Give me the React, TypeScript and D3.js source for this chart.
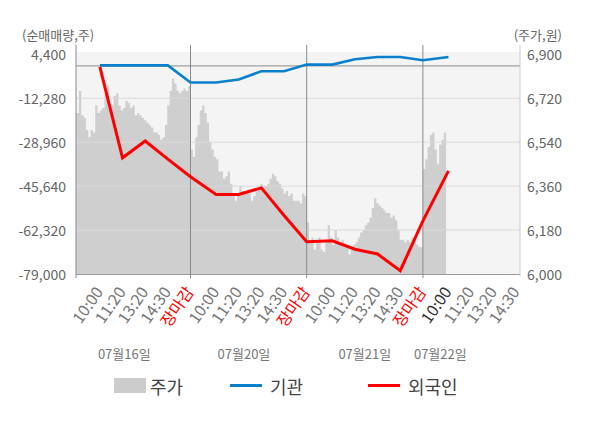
import React from 'react';
import * as d3 from 'd3';

// trading days shown on the x axis
const days = ['07월16일', '07월20일', '07월21일', '07월22일'];
const slotLabels = [
  ['10:00', '11:20', '13:20', '14:30', '장마감'],
  ['10:00', '11:20', '13:20', '14:30', '장마감'],
  ['10:00', '11:20', '13:20', '14:30', '장마감'],
  ['10:00', '11:20', '13:20', '14:30'],
];

// net buying (shares), one value per time slot
const foreignNet = [
  -400, -34900, -28500, -35400, -42100,
  -48800, -48800, -46300, -56800, -66750,
  -66400, -69600, -71400, -77750, -58800,
  -39840,
];
const institutionNet = [
  200, 200, 200, 200, -6330,
  -6330, -5190, -2045, -2045, 495,
  495, 2505, 3376, 3376, 2126,
  3376,
];

// intraday price (won), evenly sampled through each day
const price0716 = [
  6660, 6660, 6750, 6650, 6640, 6590, 6560, 6590, 6580, 6690,
  6660, 6670, 6680, 6740, 6770, 6700, 6690, 6730, 6740, 6690,
  6670, 6680, 6710, 6700, 6680, 6690, 6650, 6660, 6650, 6640,
  6630, 6620, 6610, 6600, 6580, 6580, 6570, 6550, 6560, 6610,
  6690, 6750, 6800, 6780, 6750, 6740, 6750, 6760, 6750, 6770,
];
const price0720 = [
  6510, 6480, 6560, 6610, 6670, 6690, 6660, 6620, 6540, 6510,
  6480, 6470, 6420, 6420, 6390, 6400, 6420, 6370, 6330, 6300,
  6320, 6360, 6340, 6340, 6340, 6330, 6300, 6320, 6340, 6360,
  6370, 6360, 6360, 6370, 6390, 6410, 6400, 6380, 6370, 6350,
  6330, 6340, 6320, 6330, 6300, 6300, 6300, 6290, 6330, 6320,
];
const price0721 = [
  6210, 6130, 6150, 6100, 6130, 6150, 6100, 6090, 6130, 6200,
  6150, 6120, 6180, 6150, 6130, 6140, 6110, 6120, 6080, 6100,
  6120, 6130, 6150, 6170, 6180, 6200, 6210, 6230, 6270, 6310,
  6290, 6280, 6270, 6260, 6250, 6250, 6230, 6240, 6220, 6180,
  6140, 6140, 6130, 6140, 6130, 6150, 6130, 6120, 6110, 6110,
];
const price0722 = [6430, 6470, 6520, 6570, 6580, 6510, 6450, 6530, 6550, 6580];
const dayPrices = [price0716, price0720, price0721, price0722];

const leftTicks = [4400, -12280, -28960, -45640, -62320, -79000];
const rightTicks = [6000, 6180, 6360, 6540, 6720, 6900];

const SAMPLES_PER_DAY = 50;
// where the time slots sit inside one day (fraction of the day width)
const slotFrac = [0.22, 0.415, 0.61, 0.805, 1.0];
const dateLabelAt = [0.43, 1.46, 2.5, 3.15];

const FONT = '"Noto Sans CJK KR", "Noto Sans", sans-serif';
const fmt = d3.formatLocale({ decimal: '.', thousands: ',', grouping: [3], currency: ['', ''], minus: '-' }).format(',');

export default function App() {
  const left = 76, right = 520, top = 54.3, bottom = 274;

  const x = d3.scaleLinear().domain([0, 4]).range([74.3, 74.3 + 4 * 116.2]);
  const yL = d3.scaleLinear().domain([-79000, 4400]).range([bottom, top]);
  const yR = d3.scaleLinear().domain([6000, 6900]).range([bottom, top]);

  const pricePts = dayPrices.flatMap((arr, d) => [
    ...arr.map((v, i) => ({ t: d + i / SAMPLES_PER_DAY, v })),
    { t: d + arr.length / SAMPLES_PER_DAY, v: arr[arr.length - 1] },
  ]);

  const area = d3.area<{ t: number; v: number }>()
    .x(d => x(d.t))
    .y0(yR(6000))
    .y1(d => yR(d.v))
    .curve(d3.curveStepAfter);

  const slots = slotLabels.flatMap((labels, d) =>
    labels.map((label, j) => ({ t: d + slotFrac[j], label, d, j }))
  );

  const line = d3.line<number>()
    .x((_, k) => x(slots[k].t))
    .y(v => yL(v));

  return (
    <svg width={600} height={428} style={{ position: 'absolute', left: 0, top: 0, background: '#fff' }}
      fontFamily={FONT}>
      <defs>
        <clipPath id="plot-clip">
          <rect x={left} y={52} width={right - left} height={bottom - 52} />
        </clipPath>
      </defs>

      {/* plot background */}
      <rect x={left} y={52} width={right - left} height={bottom - 52} fill="#f4f4f4" />

      {/* price area */}
      <path d={area(pricePts) || ''} fill="#cfcfcf" clipPath="url(#plot-clip)" />

      {/* grid lines */}
      {leftTicks.slice(1, -1).map(v => (
        <line key={v} x1={left} x2={right} y1={yL(v)} y2={yL(v)} stroke="#dadada" strokeWidth={1} />
      ))}
      <line x1={left} x2={right} y1={yL(0)} y2={yL(0)} stroke="#8a8a8a" strokeWidth={1} />

      {/* axes frame and day separators */}
      <line x1={left} x2={right} y1={bottom + 0.5} y2={bottom + 0.5} stroke="#999" />
      <line x1={right} x2={right} y1={45} y2={bottom + 2} stroke="#ccc" />
      <line x1={left} x2={left} y1={45} y2={bottom + 4} stroke="#8a8a8a" />
      {[1, 2, 3].map(d => (
        <line key={d} x1={x(d)} x2={x(d)} y1={45} y2={bottom + 4} stroke="#8a8a8a" />
      ))}

      {/* net buying lines */}
      <path d={line(institutionNet) || ''} fill="none" stroke="#0a80cc" strokeWidth={2.6} />
      <path d={line(foreignNet) || ''} fill="none" stroke="#ff0000" strokeWidth={3} />

      {/* left axis */}
      <text x={22} y={34} fontSize={13} fill="#666" dominantBaseline="central">(순매매량,주)</text>
      {leftTicks.map(v => (
        <text key={v} x={66} y={yL(v)} fontSize={14} fill="#666" textAnchor="end" dominantBaseline="central">
          {fmt(v)}
        </text>
      ))}

      {/* right axis */}
      <text x={562} y={34} fontSize={13} fill="#666" textAnchor="end" dominantBaseline="central">(주가,원)</text>
      {rightTicks.map(v => (
        <text key={v} x={527} y={yR(v)} fontSize={14} fill="#666" dominantBaseline="central">
          {fmt(v)}
        </text>
      ))}

      {/* time slot labels */}
      {slots.map(s => {
        const close = s.label === '장마감';
        const current = s.d === 3 && s.j === 0;
        return (
          <text key={`${s.d}-${s.j}`} fontSize={16} textAnchor="end"
            fill={close ? '#ff0000' : current ? '#333' : '#777'}
            transform={`translate(${x(s.t) + 4},${292}) rotate(-55)`}>
            {s.label}
          </text>
        );
      })}

      {/* dates */}
      {days.map((d, i) => (
        <text key={d} x={x(dateLabelAt[i])} y={353} fontSize={13} fill="#777" textAnchor="middle" dominantBaseline="central">
          {d}
        </text>
      ))}

      {/* legend */}
      <rect x={114} y={378} width={32} height={15} fill="#cccccc" />
      <text x={150} y={386} fontSize={18} fill="#444" dominantBaseline="central">주가</text>
      <line x1={230} x2={262} y1={385.5} y2={385.5} stroke="#0a80cc" strokeWidth={3} />
      <text x={270} y={386} fontSize={18} fill="#444" dominantBaseline="central">기관</text>
      <line x1={368} x2={400} y1={385.5} y2={385.5} stroke="#ff0000" strokeWidth={3} />
      <text x={408} y={386} fontSize={18} fill="#444" dominantBaseline="central">외국인</text>
    </svg>
  );
}
